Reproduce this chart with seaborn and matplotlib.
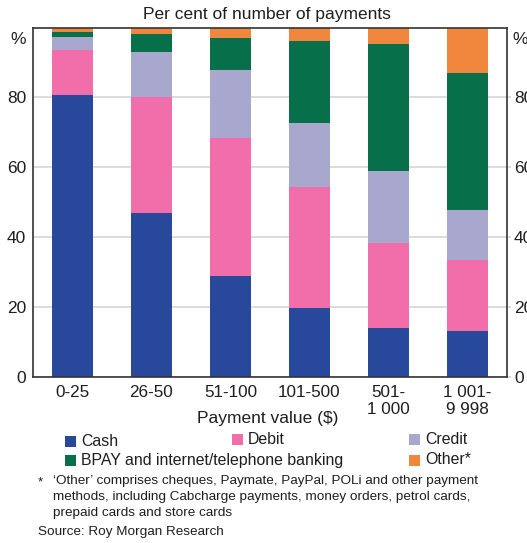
import numpy as np
import matplotlib.pyplot as plt
import matplotlib.patches as mpatches
import seaborn as sns

# values (per cent of number of payments)
categories = ['0-25', '26-50', '51-100', '101-500', '501-\n1 000', '1 001-\n9 998']
cash = [80.7, 47.0, 28.8, 19.6, 14.1, 13.3]
debit = [13.0, 33.1, 39.5, 34.9, 24.2, 20.1]
credit = [3.7, 13.0, 19.6, 18.1, 20.5, 14.4]
bpay = [1.2, 4.9, 9.2, 23.4, 36.6, 39.2]
other = [1.4, 2.0, 2.9, 4.0, 4.6, 13.0]
series_names = ['Cash', 'Debit', 'Credit', 'BPAY and internet/telephone banking', 'Other*']
yticks = [0, 20, 40, 60, 80]

colors = ['#28489c', '#f16eaa', '#a8a8cf', '#076f4a', '#f0873d']
txt = '#1e1e1e'

sns.set_theme(style='white')
plt.rcParams['font.family'] = ['Liberation Sans', 'DejaVu Sans']

W, H = 527, 543
fig = plt.figure(figsize=(W / 100, H / 100), dpi=100)
ax = fig.add_axes([33 / W, 1 - 377 / H, (507 - 33) / W, (377 - 27.5) / H])

def fx(x):
    return x / W

def fy(y):
    return 1 - y / H

# stacked bars: draw cumulative totals from the top down
stack = np.cumsum(np.array([cash, debit, credit, bpay, other]), axis=0)
for i in range(len(series_names) - 1, -1, -1):
    sns.barplot(x=categories, y=stack[i], color=colors[i], saturation=1,
                width=0.51, edgecolor='none', linewidth=0, ax=ax)

ax.set_ylim(0, 100)
ax.set_xlim(-0.5, 5.5)
ax.set_yticks(yticks)
ax.set_xlabel('')
ax.set_ylabel('')
ax.yaxis.grid(True, color='#d9d9d9', lw=1.3)
ax.set_axisbelow(True)
for s in ax.spines.values():
    s.set_color('#333333')
    s.set_linewidth(1.2)

ax.tick_params(axis='y', left=False, right=True, labelleft=True, labelright=True,
               length=3, color='#d9d9d9', pad=2, labelsize=12.5, labelcolor=txt)
ax.tick_params(axis='x', bottom=False, pad=0, labelsize=12.3, labelcolor=txt)
for lab in ax.get_xticklabels():
    lab.set_linespacing(1.1)

fig.text(fx(18), fy(39), '%', ha='center', va='center', fontsize=12.5, color=txt)
fig.text(fx(512), fy(39), '%', ha='left', va='center', fontsize=12.5, color=txt)

fig.text(fx(267), fy(14), 'Per cent of number of payments', ha='center', va='center',
         fontsize=12.5, color=txt)
fig.text(fx(268), fy(418), 'Payment value ($)', ha='center', va='center',
         fontsize=12.5, color=txt)

# legend laid out like the original (three columns, two rows)
legend_pos = [(65, 441), (232, 439), (409, 439), (65, 460), (409, 460)]
for (lx, ly), name, c in zip(legend_pos, series_names, colors):
    fig.add_artist(mpatches.Rectangle((fx(lx), fy(ly + 5.5)), 11 / W, 11 / H,
                                      transform=fig.transFigure, color=c, lw=0))
    fig.text(fx(lx + 16), fy(ly), name, ha='left', va='center', fontsize=11.4, color=txt)

note = ("\u2018Other\u2019 comprises cheques, Paymate, PayPal, POLi and other payment\n"
        "methods, including Cabcharge payments, money orders, petrol cards,\n"
        "prepaid cards and store cards")
fig.text(fx(38), fy(476), '*', ha='left', va='top', fontsize=9.7, color=txt)
fig.text(fx(53), fy(475), note, ha='left', va='top', fontsize=9.7, color=txt,
         linespacing=1.45)
fig.text(fx(38), fy(532), 'Source: Roy Morgan Research', ha='left', va='center',
         fontsize=9.7, color=txt)

fig.savefig('out.png', dpi=100)
